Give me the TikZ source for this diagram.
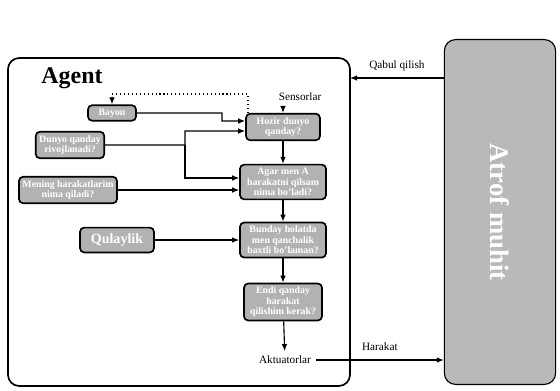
\documentclass[tikz,border=0pt]{standalone}
\usepackage{fontspec}
\setmainfont{Liberation Serif}
\usetikzlibrary{positioning, arrows.meta}

\begin{document}
\begin{tikzpicture}[x=0.025cm, y=-0.025cm,
	box/.style={draw, very thick, rounded corners=3pt, fill=gray!60, text=white, align=center, inner sep=2.5pt, font=\bfseries\fontsize{7}{7.5}\selectfont},
	arr/.style={-{Latex[length=5pt,width=4pt]}, thick},
	fbk/.style={-{Latex[length=5pt,width=4pt]}, thick, dotted},
	lbl/.style={font=\fontsize{8}{9}\selectfont}]
	\useasboundingbox (0,0) rectangle (560,390);
	
	\draw[very thick, rounded corners=8pt] (8,58) rectangle (350,386);
	\node[font=\bfseries\fontsize{17}{18}\selectfont] (agentlbl) at (72,78) {Agent};
	
	\node[draw, thick, rounded corners=8pt, fill=gray!55, minimum width=2.78cm, minimum height=8.62cm] (atrof) at (500,212) {};
	\node[rotate=-90, text=white, font=\bfseries\fontsize{19}{20}\selectfont] (atroflbl) at (atrof) {Atrof muhit};
	
	\node[lbl] (sens) at (300,97) {Sensorlar};
	\node[lbl] (akt) at (285,360) {Aktuatorlar};
	
	\node[box, minimum width=1.2cm] (bayon) at (112,113) {Bayon};
	\node[box] (dunyo) at (70,145) {Dunyo qanday\\rivojlanadi?};
	\node[box] (mening) at (68,190) {Mening harakatlarim\\nima qiladi?};
	\node[box, minimum width=1.85cm, minimum height=0.62cm, font=\bfseries\fontsize{10}{11}\selectfont] (qulay) at (117,240) {Qulaylik};
	
	\node[box, minimum width=1.85cm] (hozir) at (283,127) {Hozir dunyo\\qanday?};
	\node[box, minimum width=2.15cm] (agar) at (283,182) {Agar men A\\harakatni qilsam\\nima bo'ladi?};
	\node[box, minimum width=2.15cm] (baxt) at (283,240) {Bunday holatda\\men qanchalik\\baxtli bo'laman?};
	\node[box, minimum width=1.95cm] (endi) at (283,302) {Endi qanday\\harakat\\qilishim kerak?};
	
	\coordinate (pin) at (350,78);
	\coordinate (fb) at (248,94);
	
	\draw[arr] (atrof.west |- pin) -- (pin) node[lbl, midway, above=1pt] {Qabul qilish};
	\draw[arr] (akt.east) -- (akt.east -| atrof.west) node[lbl, midway, above=3pt] {Harakat};
	
	\draw[fbk] ([xshift=2pt]hozir.north west) |- (fb) -| (bayon.north);
	
	\draw[arr] (hozir |- sens.south) -- (hozir);
	\draw[arr] (hozir) -- (agar);
	\draw[arr] (agar) -- (baxt);
	\draw[arr] (baxt) -- (endi);
	\draw[arr] (endi) -- (akt);
	\draw[arr] (qulay) -- (baxt);
	
	\draw[arr] (bayon.east) -| (222,121) -- ([yshift=0.15cm]hozir.west);
	\draw[arr] (dunyo.east) -| (185,131) -- ([yshift=-0.1cm]hozir.west);
	\draw[arr] (185,145) |- ([yshift=0.1cm]agar.west);
	\draw[arr] (mening.east) -- (agar.west |- mening.east);
	
\end{tikzpicture}
\end{document}
